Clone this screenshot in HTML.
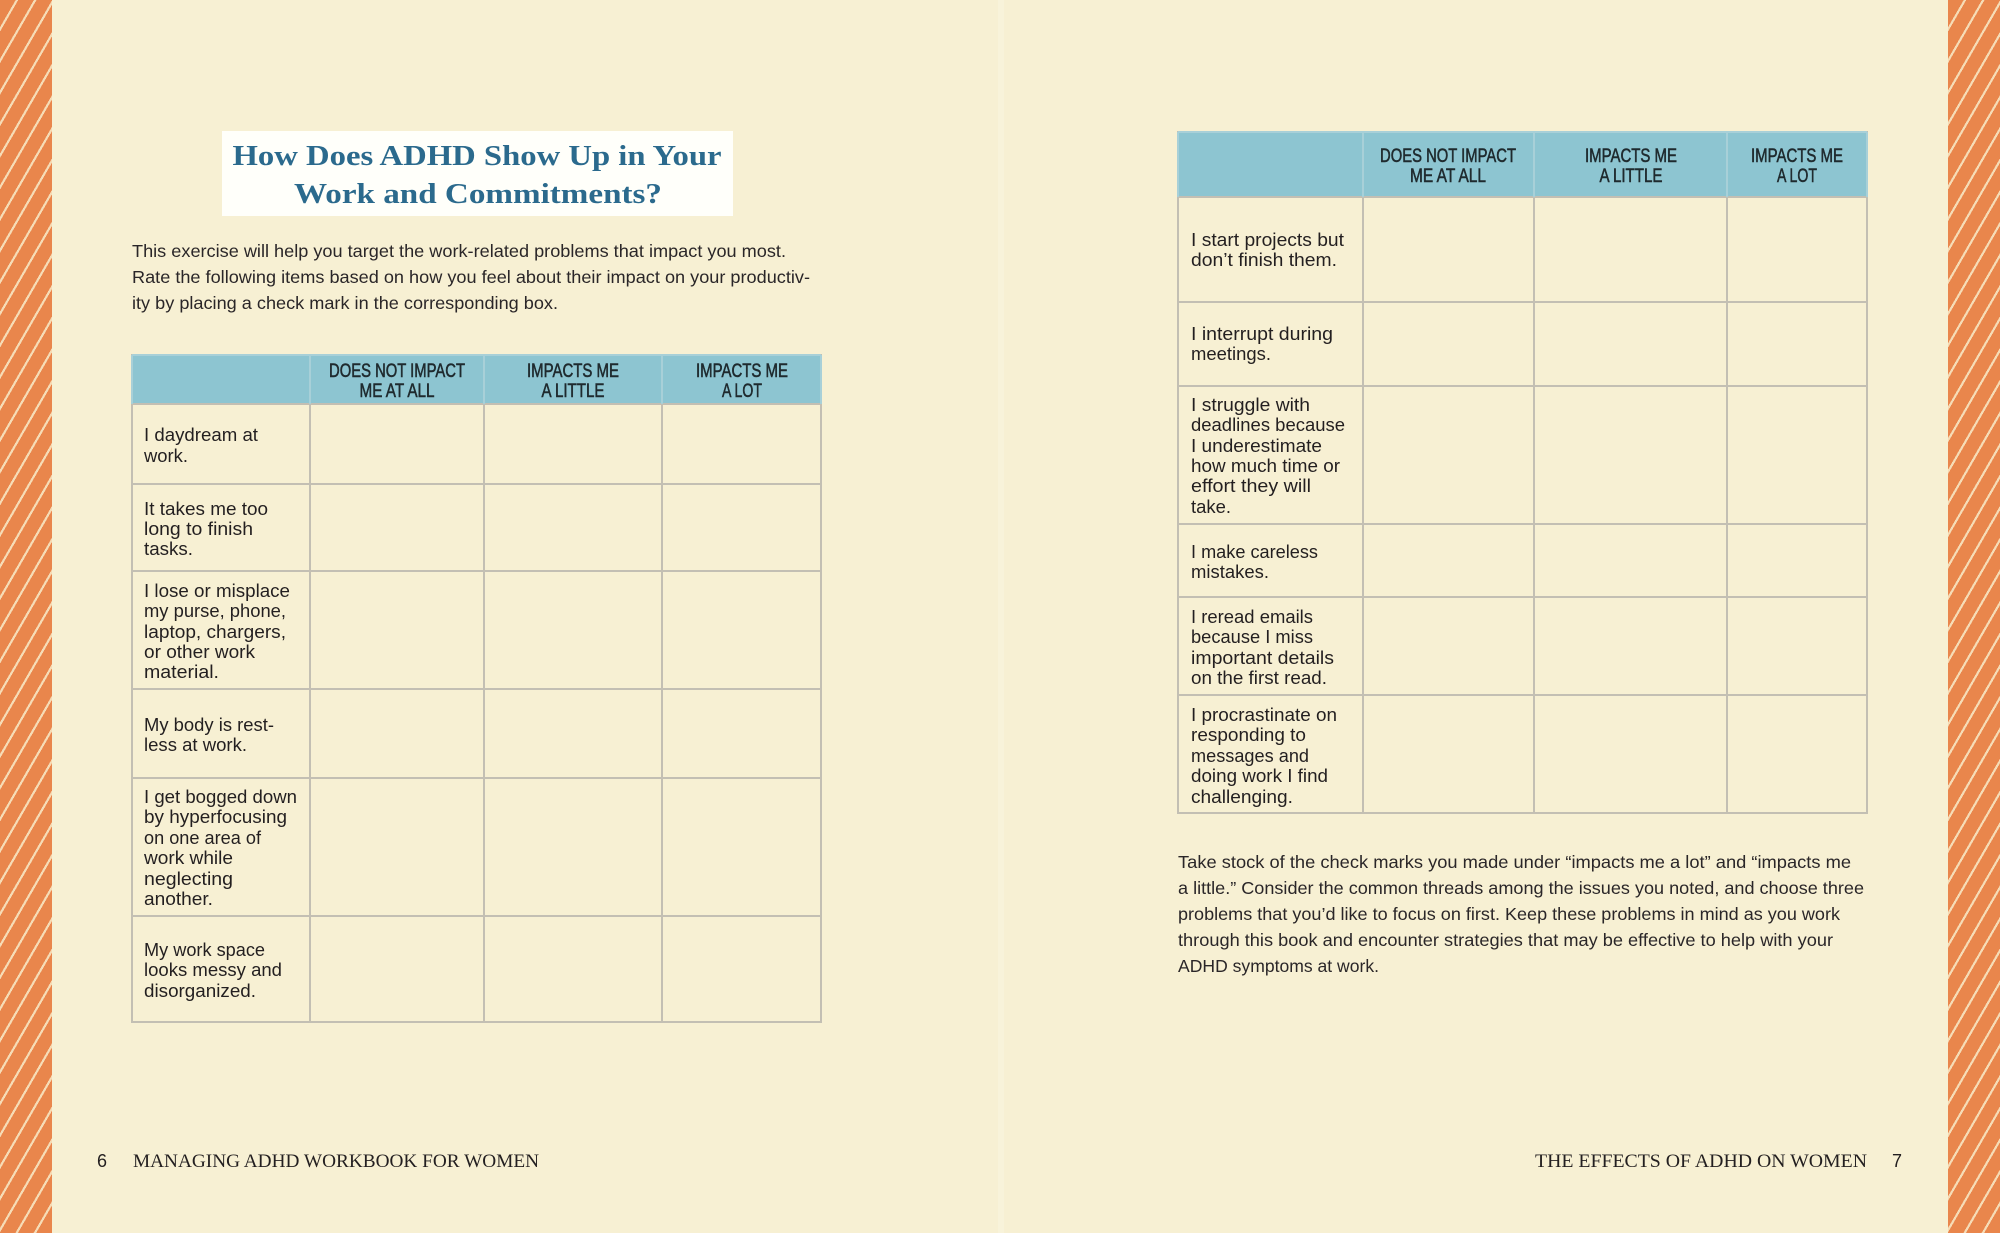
<!DOCTYPE html>
<html>
<head>
<meta charset="utf-8">
<style>
  html, body { margin:0; padding:0; }
  body { width:2000px; height:1233px; overflow:hidden; background:#f7f0d3; position:relative; }
  .stripe { position:absolute; top:0; height:1233px; width:52px;
    background: repeating-linear-gradient(120deg, #e9864c 0px, #e9864c 13.6px, #f6dcb6 13.6px, #f6dcb6 15.8px); }
  .fold { position:absolute; left:998px; top:0; width:6px; height:1233px; background:rgba(255,255,250,0.2); }
  svg { position:absolute; left:0; top:0; }
  .b { font-family:"Liberation Sans", sans-serif; font-size:18.5px; fill:#231f20; }
  .h { font-family:"Liberation Sans", sans-serif; font-size:19px; fill:#1f2a2e; stroke:#1f2a2e; stroke-width:0.55px; }
  .p { font-family:"Liberation Sans", sans-serif; font-size:17.5px; fill:#2a2628; }
  .t { font-family:"Liberation Serif", serif; font-size:28px; font-weight:bold; fill:#2b6a8d; }
  .f { font-family:"Liberation Serif", serif; font-size:19px; fill:#231f20; }
  .n { font-family:"Liberation Sans", sans-serif; font-size:18px; fill:#231f20; }
</style>
</head>
<body>
<div class="stripe" style="left:0;"></div>
<div class="stripe" style="left:1948px;"></div>
<div class="fold"></div>
<svg width="2000" height="1233" viewBox="0 0 2000 1233" xmlns="http://www.w3.org/2000/svg">
  <!-- Title box -->
  <rect x="222" y="131" width="511" height="85" fill="#fffffa"/>
  <text class="t" x="477" y="165" text-anchor="middle" textLength="489" lengthAdjust="spacingAndGlyphs">How Does ADHD Show Up in Your</text>
  <text class="t" x="478" y="203" text-anchor="middle" textLength="368" lengthAdjust="spacingAndGlyphs">Work and Commitments?</text>

  <!-- Left paragraph -->
  <text class="p" x="132" y="257" textLength="654" lengthAdjust="spacingAndGlyphs">This exercise will help you target the work-related problems that impact you most.</text>
  <text class="p" x="132" y="283" textLength="678" lengthAdjust="spacingAndGlyphs">Rate the following items based on how you feel about their impact on your productiv-</text>
  <text class="p" x="132" y="309" textLength="426" lengthAdjust="spacingAndGlyphs">ity by placing a check mark in the corresponding box.</text>

  <!-- Left table -->
  <rect x="132" y="355" width="689" height="49" fill="#8dc5d1"/>
  <g stroke="#c3bfb3" stroke-width="2" fill="none">
    <rect x="132" y="355" width="689" height="667"/>
    <line x1="132" y1="404" x2="821" y2="404"/>
    <line x1="132" y1="484" x2="821" y2="484"/>
    <line x1="132" y1="571" x2="821" y2="571"/>
    <line x1="132" y1="689" x2="821" y2="689"/>
    <line x1="132" y1="778" x2="821" y2="778"/>
    <line x1="132" y1="916" x2="821" y2="916"/>
    <line x1="310" y1="404" x2="310" y2="1022"/>
    <line x1="484" y1="404" x2="484" y2="1022"/>
    <line x1="662" y1="404" x2="662" y2="1022"/>
  </g>
  <g stroke="#a8d0d8" stroke-width="2">
    <line x1="310" y1="355" x2="310" y2="404"/>
    <line x1="484" y1="355" x2="484" y2="404"/>
    <line x1="662" y1="355" x2="662" y2="404"/>
    <line x1="132" y1="355" x2="821" y2="355"/>
    <line x1="132" y1="355" x2="132" y2="404"/>
    <line x1="821" y1="355" x2="821" y2="404"/>
  </g>
  <text class="h" x="397" y="377" text-anchor="middle" textLength="136" lengthAdjust="spacingAndGlyphs">DOES NOT IMPACT</text>
  <text class="h" x="397" y="397" text-anchor="middle" textLength="75" lengthAdjust="spacingAndGlyphs">ME AT ALL</text>
  <text class="h" x="573" y="377" text-anchor="middle" textLength="92" lengthAdjust="spacingAndGlyphs">IMPACTS ME</text>
  <text class="h" x="573" y="397" text-anchor="middle" textLength="63" lengthAdjust="spacingAndGlyphs">A LITTLE</text>
  <text class="h" x="742" y="377" text-anchor="middle" textLength="92" lengthAdjust="spacingAndGlyphs">IMPACTS ME</text>
  <text class="h" x="742" y="397" text-anchor="middle" textLength="40" lengthAdjust="spacingAndGlyphs">A LOT</text>

  <text class="b" x="144" y="441" textLength="114" lengthAdjust="spacingAndGlyphs">I daydream at</text>
  <text class="b" x="144" y="462" textLength="44" lengthAdjust="spacingAndGlyphs">work.</text>

  <text class="b" x="144" y="515" textLength="124" lengthAdjust="spacingAndGlyphs">It takes me too</text>
  <text class="b" x="144" y="535" textLength="109" lengthAdjust="spacingAndGlyphs">long to finish</text>
  <text class="b" x="144" y="555" textLength="49" lengthAdjust="spacingAndGlyphs">tasks.</text>

  <text class="b" x="144" y="597" textLength="146" lengthAdjust="spacingAndGlyphs">I lose or misplace</text>
  <text class="b" x="144" y="617" textLength="142" lengthAdjust="spacingAndGlyphs">my purse, phone,</text>
  <text class="b" x="144" y="638" textLength="142" lengthAdjust="spacingAndGlyphs">laptop, chargers,</text>
  <text class="b" x="144" y="658" textLength="111" lengthAdjust="spacingAndGlyphs">or other work</text>
  <text class="b" x="144" y="678" textLength="75" lengthAdjust="spacingAndGlyphs">material.</text>

  <text class="b" x="144" y="731" textLength="130" lengthAdjust="spacingAndGlyphs">My body is rest-</text>
  <text class="b" x="144" y="751" textLength="103" lengthAdjust="spacingAndGlyphs">less at work.</text>

  <text class="b" x="144" y="803" textLength="153" lengthAdjust="spacingAndGlyphs">I get bogged down</text>
  <text class="b" x="144" y="823" textLength="143" lengthAdjust="spacingAndGlyphs">by hyperfocusing</text>
  <text class="b" x="144" y="844" textLength="117" lengthAdjust="spacingAndGlyphs">on one area of</text>
  <text class="b" x="144" y="864" textLength="89" lengthAdjust="spacingAndGlyphs">work while</text>
  <text class="b" x="144" y="885" textLength="89" lengthAdjust="spacingAndGlyphs">neglecting</text>
  <text class="b" x="144" y="905" textLength="69" lengthAdjust="spacingAndGlyphs">another.</text>

  <text class="b" x="144" y="956" textLength="121" lengthAdjust="spacingAndGlyphs">My work space</text>
  <text class="b" x="144" y="976" textLength="138" lengthAdjust="spacingAndGlyphs">looks messy and</text>
  <text class="b" x="144" y="997" textLength="112" lengthAdjust="spacingAndGlyphs">disorganized.</text>

  <!-- Right table -->
  <rect x="1178" y="132" width="689" height="65" fill="#8dc5d1"/>
  <g stroke="#c3bfb3" stroke-width="2" fill="none">
    <rect x="1178" y="132" width="689" height="681"/>
    <line x1="1178" y1="197" x2="1867" y2="197"/>
    <line x1="1178" y1="302" x2="1867" y2="302"/>
    <line x1="1178" y1="386" x2="1867" y2="386"/>
    <line x1="1178" y1="524" x2="1867" y2="524"/>
    <line x1="1178" y1="597" x2="1867" y2="597"/>
    <line x1="1178" y1="695" x2="1867" y2="695"/>
    <line x1="1363" y1="197" x2="1363" y2="813"/>
    <line x1="1534" y1="197" x2="1534" y2="813"/>
    <line x1="1727" y1="197" x2="1727" y2="813"/>
  </g>
  <g stroke="#a8d0d8" stroke-width="2">
    <line x1="1363" y1="132" x2="1363" y2="197"/>
    <line x1="1534" y1="132" x2="1534" y2="197"/>
    <line x1="1727" y1="132" x2="1727" y2="197"/>
    <line x1="1178" y1="132" x2="1867" y2="132"/>
    <line x1="1178" y1="132" x2="1178" y2="197"/>
    <line x1="1867" y1="132" x2="1867" y2="197"/>
  </g>
  <text class="h" x="1448" y="162" text-anchor="middle" textLength="136" lengthAdjust="spacingAndGlyphs">DOES NOT IMPACT</text>
  <text class="h" x="1448" y="182" text-anchor="middle" textLength="76" lengthAdjust="spacingAndGlyphs">ME AT ALL</text>
  <text class="h" x="1631" y="162" text-anchor="middle" textLength="92" lengthAdjust="spacingAndGlyphs">IMPACTS ME</text>
  <text class="h" x="1631" y="182" text-anchor="middle" textLength="63" lengthAdjust="spacingAndGlyphs">A LITTLE</text>
  <text class="h" x="1797" y="162" text-anchor="middle" textLength="92" lengthAdjust="spacingAndGlyphs">IMPACTS ME</text>
  <text class="h" x="1797" y="182" text-anchor="middle" textLength="40" lengthAdjust="spacingAndGlyphs">A LOT</text>

  <text class="b" x="1191" y="246" textLength="153" lengthAdjust="spacingAndGlyphs">I start projects but</text>
  <text class="b" x="1191" y="266" textLength="146" lengthAdjust="spacingAndGlyphs">don’t finish them.</text>

  <text class="b" x="1191" y="340" textLength="142" lengthAdjust="spacingAndGlyphs">I interrupt during</text>
  <text class="b" x="1191" y="360" textLength="80" lengthAdjust="spacingAndGlyphs">meetings.</text>

  <text class="b" x="1191" y="411" textLength="119" lengthAdjust="spacingAndGlyphs">I struggle with</text>
  <text class="b" x="1191" y="431" textLength="154" lengthAdjust="spacingAndGlyphs">deadlines because</text>
  <text class="b" x="1191" y="452" textLength="131" lengthAdjust="spacingAndGlyphs">I underestimate</text>
  <text class="b" x="1191" y="472" textLength="149" lengthAdjust="spacingAndGlyphs">how much time or</text>
  <text class="b" x="1191" y="492" textLength="120" lengthAdjust="spacingAndGlyphs">effort they will</text>
  <text class="b" x="1191" y="513" textLength="40" lengthAdjust="spacingAndGlyphs">take.</text>

  <text class="b" x="1191" y="558" textLength="127" lengthAdjust="spacingAndGlyphs">I make careless</text>
  <text class="b" x="1191" y="578" textLength="78" lengthAdjust="spacingAndGlyphs">mistakes.</text>

  <text class="b" x="1191" y="623" textLength="122" lengthAdjust="spacingAndGlyphs">I reread emails</text>
  <text class="b" x="1191" y="643" textLength="122" lengthAdjust="spacingAndGlyphs">because I miss</text>
  <text class="b" x="1191" y="664" textLength="143" lengthAdjust="spacingAndGlyphs">important details</text>
  <text class="b" x="1191" y="684" textLength="136" lengthAdjust="spacingAndGlyphs">on the first read.</text>

  <text class="b" x="1191" y="721" textLength="146" lengthAdjust="spacingAndGlyphs">I procrastinate on</text>
  <text class="b" x="1191" y="741" textLength="115" lengthAdjust="spacingAndGlyphs">responding to</text>
  <text class="b" x="1191" y="762" textLength="118" lengthAdjust="spacingAndGlyphs">messages and</text>
  <text class="b" x="1191" y="782" textLength="137" lengthAdjust="spacingAndGlyphs">doing work I find</text>
  <text class="b" x="1191" y="803" textLength="102" lengthAdjust="spacingAndGlyphs">challenging.</text>

  <!-- Right paragraph -->
  <text class="p" x="1178" y="868" textLength="673" lengthAdjust="spacingAndGlyphs">Take stock of the check marks you made under “impacts me a lot” and “impacts me</text>
  <text class="p" x="1178" y="894" textLength="686" lengthAdjust="spacingAndGlyphs">a little.” Consider the common threads among the issues you noted, and choose three</text>
  <text class="p" x="1178" y="920" textLength="662" lengthAdjust="spacingAndGlyphs">problems that you’d like to focus on first. Keep these problems in mind as you work</text>
  <text class="p" x="1178" y="946" textLength="655" lengthAdjust="spacingAndGlyphs">through this book and encounter strategies that may be effective to help with your</text>
  <text class="p" x="1178" y="972" textLength="201" lengthAdjust="spacingAndGlyphs">ADHD symptoms at work.</text>

  <!-- Footers -->
  <text class="n" x="97" y="1167">6</text>
  <text class="f" x="133" y="1167" textLength="406" lengthAdjust="spacingAndGlyphs">MANAGING ADHD WORKBOOK FOR WOMEN</text>
  <text class="f" x="1535" y="1167" textLength="332" lengthAdjust="spacingAndGlyphs">THE EFFECTS OF ADHD ON WOMEN</text>
  <text class="n" x="1892" y="1167">7</text>
</svg>
</body>
</html>
